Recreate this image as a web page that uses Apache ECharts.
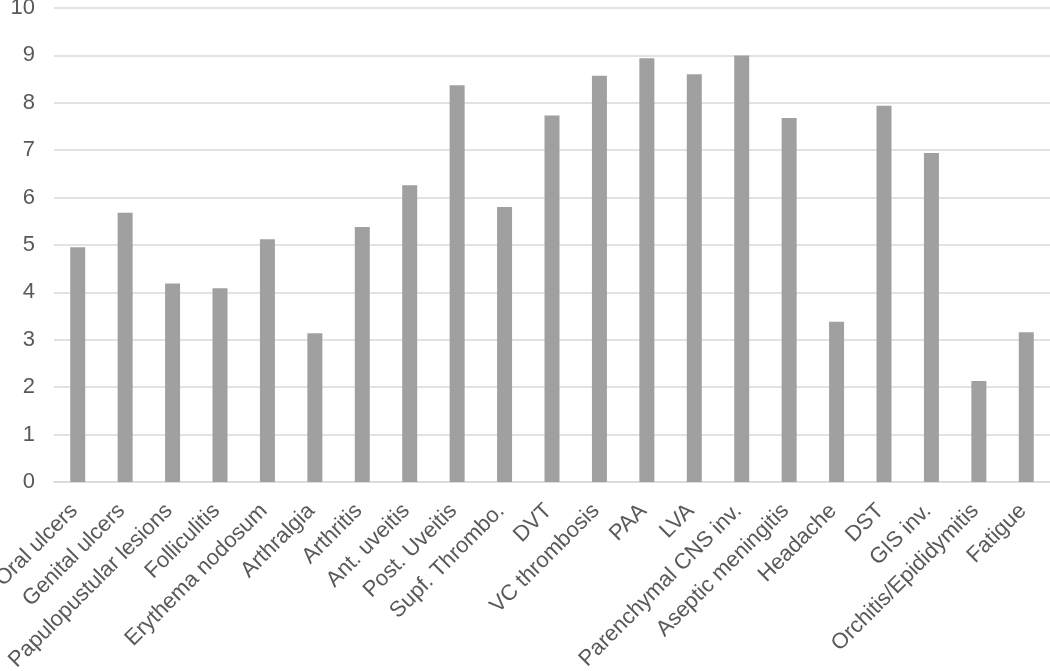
<!DOCTYPE html>
<html>
<head>
<meta charset="utf-8">
<script src="https://cdn.jsdelivr.net/npm/echarts@6/dist/echarts.min.js"></script>
<style>html,body{margin:0;padding:0;background:#fff;}#c{width:1050px;height:671px;}</style>
</head>
<body>
<div id="c"></div>
<script>
const categories = ["Oral ulcers","Genital ulcers","Papulopustular lesions","Folliculitis","Erythema nodosum","Arthralgia","Arthritis","Ant. uveitis","Post. Uveitis","Supf. Thrombo.","DVT","VC thrombosis","PAA","LVA","Parenchymal CNS inv.","Aseptic meningitis","Headache","DST","GIS inv.","Orchitis/Epididymitis","Fatigue"];
const values = [4.95,5.68,4.19,4.09,5.12,3.14,5.38,6.26,8.37,5.80,7.73,8.57,8.94,8.60,9.0,7.68,3.38,7.94,6.94,2.13,3.16];
const yTicks = {min:0, max:10, interval:1};

const chart = echarts.init(document.getElementById('c'), null, {renderer:'canvas'});
chart.setOption({
  animation:false,
  backgroundColor:'#ffffff',
  grid:{left:54, right:0, top:8, bottom:189, containLabel:false, outerBoundsMode:'none'},
  xAxis:{
    type:'category', data:categories,
    axisLine:{show:true, lineStyle:{color:'#d9d9d9', width:1.5}},
    axisTick:{show:false},
    axisLabel:{rotate:45, interval:0, margin:22, padding:[0,5,0,0], color:'#595959', fontSize:22, fontFamily:'Liberation Sans, Arial, sans-serif'}
  },
  yAxis:{
    type:'value', min:yTicks.min, max:yTicks.max, interval:yTicks.interval,
    axisLine:{show:false}, axisTick:{show:false},
    splitLine:{lineStyle:{color:'#d9d9d9', width:1.5}},
    axisLabel:{color:'#595959', fontSize:22, margin:19, fontFamily:'Liberation Sans, Arial, sans-serif'}
  },
  series:[{
    type:'bar', data:values, barWidth:15,
    itemStyle:{color:'#a0a0a0'}
  }]
});
</script>
</body>
</html>
